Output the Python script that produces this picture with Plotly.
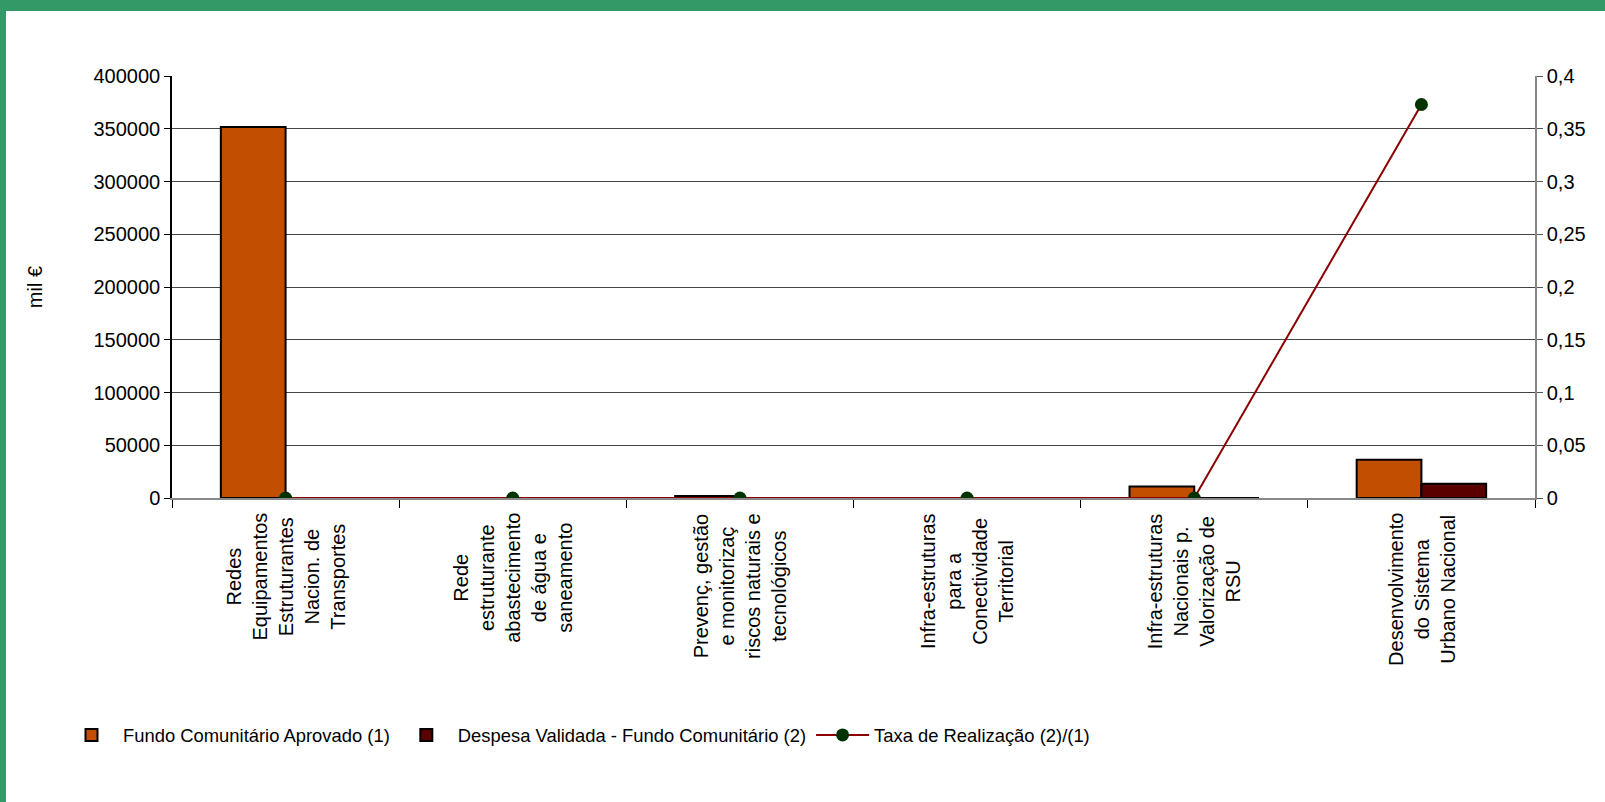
import plotly.graph_objects as go

categories = [
    "Redes<br>Equipamentos<br>Estruturantes<br>Nacion. de<br>Transportes",
    "Rede<br>estruturante<br>abastecimento<br>de água e<br>saneamento",
    "Prevenç, gestão<br>e monitorizaç<br>riscos naturais e<br>tecnológicos",
    "Infra-estruturas<br>para a<br>Conectividade<br>Territorial",
    "Infra-estruturas<br>Nacionais p.<br>Valorização de<br>RSU",
    "Desenvolvimento<br>do Sistema<br>Urbano Nacional",
]
cat_ids = ["c1", "c2", "c3", "c4", "c5", "c6"]
fundo_aprovado = [351700, 0, 2000, 0, 11000, 36300]
despesa_validada = [0, 0, 0, 0, 0, 13550]
taxa_realizacao = [0, 0, 0, 0, 0, 0.373]

left_ticks = [0, 50000, 100000, 150000, 200000, 250000, 300000, 350000, 400000]
right_ticks = [0, 0.05, 0.1, 0.15, 0.2, 0.25, 0.3, 0.35, 0.4]

W, H = 1605, 802
L, R, T, B = 172, 70, 76, 304
pw, ph = W - L - R, H - T - B

FONT = "Arial, Liberation Sans, sans-serif"

fig = go.Figure()
fig.add_trace(go.Bar(
    x=cat_ids, y=fundo_aprovado, name="Fundo Comunitário Aprovado (1)",
    marker=dict(color="#c24e02", line=dict(color="#000000", width=2)),
))
fig.add_trace(go.Bar(
    x=cat_ids, y=despesa_validada, name="Despesa Validada - Fundo Comunitário (2)",
    marker=dict(color="#5a0000", line=dict(color="#000000", width=2)),
))
fig.add_trace(go.Scatter(
    x=cat_ids, y=taxa_realizacao, name="Taxa de Realização (2)/(1)", yaxis="y2",
    mode="lines+markers",
    line=dict(color="#8b0000", width=2),
    marker=dict(color="#003300", size=13),
))

annotations = []
for cid, lab in zip(cat_ids, categories):
    annotations.append(dict(
        x=cid, xref="x", y=-13 / ph, yref="paper", text=lab, showarrow=False,
        textangle=-90, xanchor="center", yanchor="top", align="center",
        font=dict(family=FONT, size=20, color="#000000"),
    ))

shapes = [
    dict(type="rect", xref="paper", yref="paper", x0=-L / pw, x1=(W - L) / pw,
         y0=(H - B - 11) / ph, y1=(H - B) / ph,
         fillcolor="#339966", line=dict(width=0), layer="above"),
    dict(type="rect", xref="paper", yref="paper", x0=-L / pw, x1=(6 - L) / pw,
         y0=-B / ph, y1=(H - B) / ph,
         fillcolor="#339966", line=dict(width=0), layer="above"),
]

fig.update_layout(
    width=W, height=H,
    margin=dict(l=L, r=R, t=T, b=B, pad=0),
    paper_bgcolor="white", plot_bgcolor="white",
    separators=",.",
    font=dict(family=FONT, size=20, color="#000000"),
    barmode="group", bargap=0.43, bargroupgap=0,
    showlegend=True,
    legend=dict(orientation="h", x=(60 - L) / pw, xanchor="left",
                y=(498 - 735) / ph, yanchor="middle", itemwidth=53,
                font=dict(family=FONT, size=18.4, color="#000000"),
                traceorder="normal"),
    xaxis=dict(type="category", categoryorder="array", categoryarray=cat_ids,
               showticklabels=False, tickson="boundaries", ticks="outside",
               ticklen=8, tickcolor="#000000", showline=True, linecolor="#888888",
               linewidth=1.5, showgrid=False, range=[-0.5, 5.5]),
    yaxis=dict(title=dict(text="mil €", font=dict(size=20), standoff=46),
               range=[0, 400000], tickvals=left_ticks, tickformat="d",
               ticks="outside", ticklen=6,
               tickcolor="#000000", showline=True, linecolor="#000000",
               linewidth=1.5, showgrid=True, gridcolor="#444444", gridwidth=1,
               zeroline=False, tickfont=dict(size=20)),
    yaxis2=dict(overlaying="y", side="right", range=[0, 0.4], tickvals=right_ticks,
                ticks="outside", ticklen=6, tickcolor="#555555", showline=True,
                linecolor="#888888", linewidth=1.5, showgrid=False, zeroline=False,
                tickfont=dict(size=20)),
    annotations=annotations,
    shapes=shapes,
)

fig.write_html(
    "out.html",
    config={"displayModeBar": False},
    post_script="document.body.style.margin='0';document.body.style.overflow='hidden';",
)
